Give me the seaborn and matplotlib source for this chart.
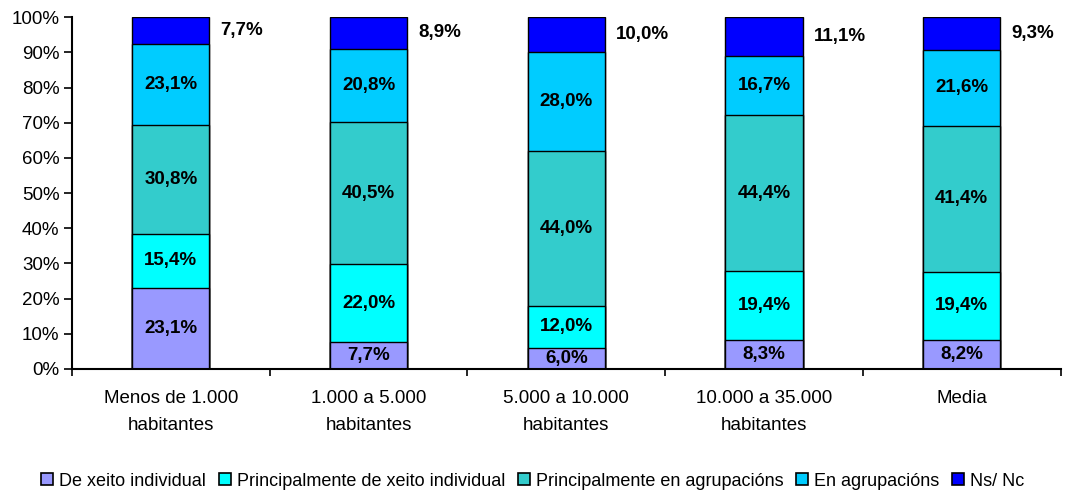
import numpy as np
import pandas as pd
import matplotlib
matplotlib.use("Agg")
import matplotlib.pyplot as plt
import seaborn as sns
from matplotlib.patches import Patch

# data (percentages)
categories = ["Menos de 1.000\nhabitantes", "1.000 a 5.000\nhabitantes",
              "5.000 a 10.000\nhabitantes", "10.000 a 35.000\nhabitantes", "Media"]
series_names = ["De xeito individual", "Principalmente de xeito individual",
                "Principalmente en agrupacións", "En agrupacións", "Ns/ Nc"]
de_xeito_individual = [23.1, 7.7, 6.0, 8.3, 8.2]
princ_xeito_individual = [15.4, 22.0, 12.0, 19.4, 19.4]
princ_agrupacions = [30.8, 40.5, 44.0, 44.4, 41.4]
en_agrupacions = [23.1, 20.8, 28.0, 16.7, 21.6]
ns_nc = [7.7, 8.9, 10.0, 11.1, 9.3]
colors = ["#9999FF", "#00FFFF", "#33CCCC", "#00CCFF", "#0000FF"]

values = np.array([de_xeito_individual, princ_xeito_individual, princ_agrupacions,
                   en_agrupacions, ns_nc])

sns.set_style("white")
plt.rcParams["font.family"] = ["Liberation Sans", "DejaVu Sans"]
plt.rcParams["text.color"] = "black"
plt.rcParams["xtick.color"] = "black"
plt.rcParams["ytick.color"] = "black"

fig = plt.figure(figsize=(10.66, 4.91), dpi=100)
ax = fig.add_axes([0.0675, 0.2485, 0.9275, 0.7165])

# 100% stacked: normalise each column, draw cumulative totals from the top down
shares = values / values.sum(axis=0) * 100
cum = np.cumsum(shares, axis=0)
for k in range(len(series_names) - 1, -1, -1):
    df = pd.DataFrame({"cat": categories, "val": cum[k]})
    sns.barplot(data=df, x="cat", y="val", color=colors[k], width=0.39,
                edgecolor="black", linewidth=1.0, saturation=1, ax=ax)

# value labels
for k in range(len(series_names)):
    for i in range(len(categories)):
        mid = cum[k][i] - shares[k][i] / 2
        txt = f"{values[k][i]:.1f}%".replace(".", ",")
        if k == len(series_names) - 1:
            ax.text(i + 0.25, mid, txt, ha="left", va="center",
                    fontsize=13.5, fontweight="bold")
        else:
            ax.text(i, mid, txt, ha="center", va="center",
                    fontsize=13.5, fontweight="bold")

ax.set_xlim(-0.5, len(categories) - 0.5)
ax.set_ylim(0, 100)
ax.set_yticks(np.arange(0, 101, 10))
ax.set_yticklabels([f"{t}%" for t in range(0, 101, 10)], fontsize=13.5)
ax.set_xticks(np.arange(len(categories) + 1) - 0.5)
ax.set_xticklabels([])
ax.set_xticks(np.arange(len(categories)), minor=True)
ax.set_xticklabels(categories, minor=True, fontsize=13.5, linespacing=1.75)
ax.tick_params(axis="x", which="minor", bottom=False, length=0, pad=15)
ax.tick_params(axis="x", which="major", bottom=True, length=5, width=1.2,
               direction="out")
ax.tick_params(axis="y", left=True, length=6, width=1.2, direction="out", pad=3)
ax.set_xlabel("")
ax.set_ylabel("")

for side in ["top", "right"]:
    ax.spines[side].set_visible(False)
for side in ["left", "bottom"]:
    ax.spines[side].set_color("black")
    ax.spines[side].set_linewidth(1.5)

handles = [Patch(facecolor=c, edgecolor="black", linewidth=1.2) for c in colors]
fig.legend(handles, series_names, loc="center", bbox_to_anchor=(0.5, 0.02),
           ncol=5, frameon=False, fontsize=13, handlelength=0.65,
           handleheight=0.65, handletextpad=0.35, columnspacing=0.7)

fig.savefig("out.png", dpi=100)
